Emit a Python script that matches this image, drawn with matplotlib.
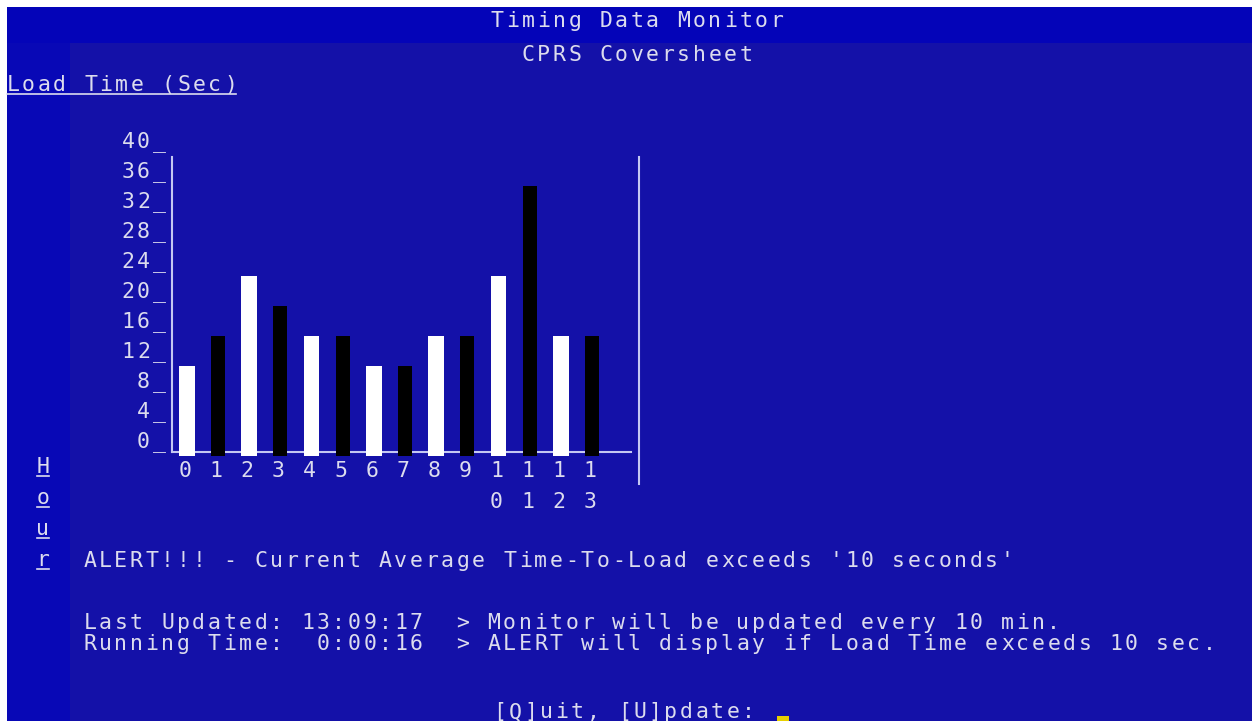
"""
Timing Data Monitor screen (CPRS Coversheet load time per hour),
redrawn as a terminal-style bar chart. Saves out.png.
"""
import matplotlib.pyplot as plt
from matplotlib.patches import Rectangle
from matplotlib.lines import Line2D

OUTPUT = "out.png"
W, H = 1252, 721

# chart data
hours = list(range(14))
load_times = [12, 16, 24, 20, 16, 16, 12, 12, 16, 16, 24, 36, 16, 16]
y_ticks = list(range(0, 41, 4))

# screen text
title_lines = ["Timing Data Monitor", "CPRS Coversheet"]
y_title = "Load Time (Sec)"
x_title = "Hour"
alert_line = "ALERT!!! - Current Average Time-To-Load exceeds '10 seconds'"
status_lines = [
    "Last Updated: 13:09:17  > Monitor will be updated every 10 min.",
    "Running Time:  0:00:16  > ALERT will display if Load Time exceeds 10 sec.",
]
prompt = "[Q]uit, [U]pdate:"

PITCH = 15.55
FG = "#dcdcee"
LINE = "#c4c8f2"
FONT = "DejaVu Sans Mono"
FS = 15.5


def px(x, y):
    # screen pixels (origin top-left) -> figure fraction
    return x / W, 1 - y / H


def put(fig, x0, base, s, pitch=PITCH, under=False, color=FG):
    """Draw a string on a fixed character grid, like a terminal."""
    for i, ch in enumerate(s):
        if ch == " ":
            continue
        fx, fy = px(x0 + (i + 0.5) * pitch, base)
        fig.text(fx, fy, ch, ha="center", va="baseline", family=FONT,
                 fontsize=FS, color=color)
    if under:
        x1, y1 = px(x0 + 2, base + 3)
        x2, _ = px(x0 + len(s) * pitch - 2, base + 3)
        fig.add_artist(Line2D([x1, x2], [y1, y1], color=color, lw=1.2))


def rect(fig, x0, y0, x1, y1, color):
    fx0, fy1 = px(x0, y1)
    fx1, fy0 = px(x1, y0)
    fig.add_artist(Rectangle((fx0, fy1), fx1 - fx0, fy0 - fy1,
                             transform=fig.transFigure, color=color, lw=0, zorder=0))


def main():
    fig = plt.figure(figsize=(W / 100, H / 100), dpi=100)
    fig.patch.set_facecolor("white")

    # terminal window areas
    rect(fig, 7, 7, W, 43, "#0404b8")
    rect(fig, 7, 43, 70, H, "#0808b6")
    rect(fig, 70, 43, W, H, "#1411a8")

    # bar chart
    ax = fig.add_axes([172 / W, 1 - 456 / H, (638 - 172) / W, 300 / H])
    ax.set_xlim(-0.48, 14.48)
    ax.set_ylim(0, 40)
    ax.axis("off")

    colors = ["white" if h % 2 == 0 else "black" for h in hours]
    widths = [0.51 if h % 2 == 0 else 0.45 for h in hours]
    ax.bar(hours, load_times, width=widths, color=colors, zorder=2)

    ax.plot([-0.48, -0.48], [0.53, 39.87], color=LINE, lw=1.5, clip_on=False)
    ax.plot([-0.48, 14.25], [0.53, 0.53], color=LINE, lw=1.5, clip_on=False, zorder=1)
    ax.plot([14.5, 14.5], [-3.75, 39.9], color=LINE, lw=1.5, clip_on=False)

    fig.canvas.draw()
    to_px = ax.transData

    # y tick labels "40_" etc, right aligned against the axis
    for v in y_ticks:
        y = H - to_px.transform((0, v))[1] - 8
        s = f"{v}_"
        x0 = 159 + PITCH / 2 - len(s) * PITCH
        put(fig, x0, y, s)

    # x tick labels, multi-digit hours written downward
    for h in hours:
        xc = to_px.transform((h, 0))[0] - 2
        for row, ch in enumerate(str(h)):
            put(fig, xc - PITCH / 2, 477 + row * 31, ch)

    # titles and axis names
    put(fig, 637 - len(title_lines[0]) * PITCH / 2, 27, title_lines[0])
    put(fig, 637 - len(title_lines[1]) * PITCH / 2, 61, title_lines[1])
    put(fig, 5, 91, y_title, under=True)
    for i, ch in enumerate(x_title):
        put(fig, 43 - PITCH / 2, 473 + i * 31, ch, under=True)

    # status area
    put(fig, 82, 567, alert_line)
    put(fig, 82, 629, status_lines[0])
    put(fig, 82, 650, status_lines[1])
    put(fig, 492, 718, prompt)
    rect(fig, 777, 716, 789, H, "#e8d000")

    fig.savefig(OUTPUT, dpi=100, facecolor=fig.get_facecolor())


if __name__ == "__main__":
    main()
